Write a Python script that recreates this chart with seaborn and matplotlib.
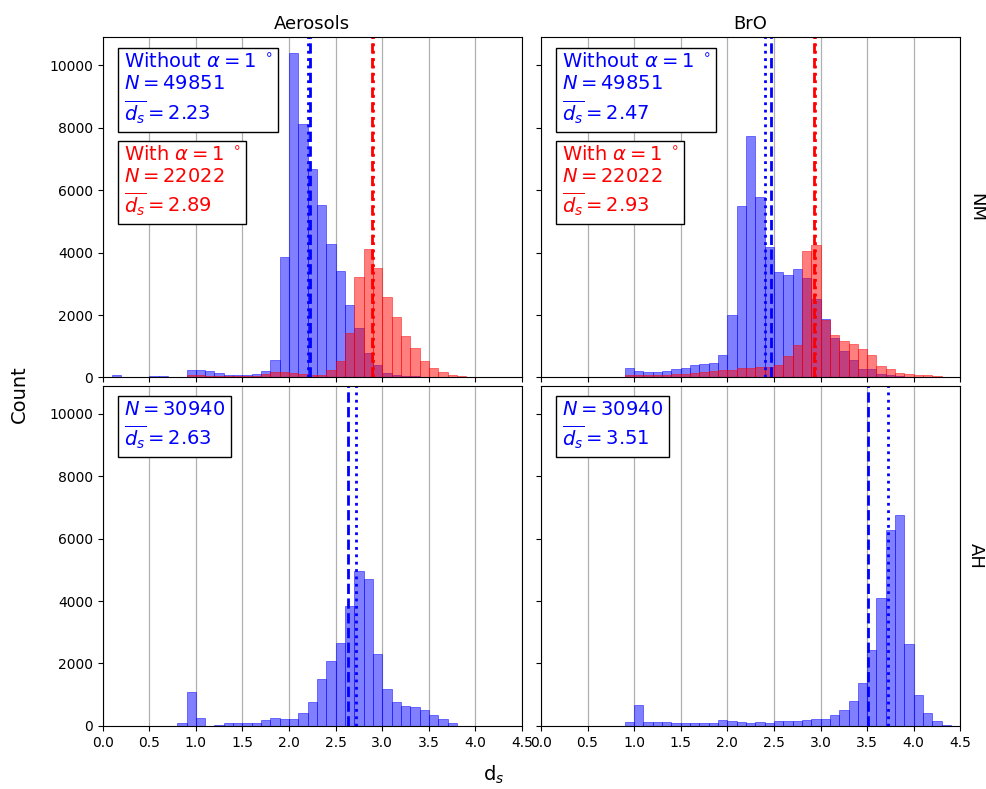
import numpy as np
import pandas as pd
import seaborn as sns
import matplotlib
matplotlib.use("Agg")
import matplotlib.pyplot as plt

# bin edges of the d_s histograms (width 0.1, from 0.0 to 4.5)
bin_edges = np.round(np.arange(0.0, 4.51, 0.1), 1)
bin_centers = bin_edges[:-1] + 0.05

# counts per bin (45 bins: 0.0 ... 4.4)
aer_nm_without = [20, 65, 20, 15, 20, 50, 50, 20, 20, 225,
                  225, 190, 140, 65, 65, 65, 100, 190, 550, 3870,
                  10390, 8130, 6670, 5520, 4290, 3400, 2320, 1590, 770, 410,
                  150, 85, 50, 30, 10, 5, 0, 0, 0, 0,
                  0, 0, 0, 0, 0]
aer_nm_with = [20, 20, 20, 20, 20, 20, 20, 20, 20, 80,
               80, 60, 50, 40, 40, 50, 60, 100, 160, 160,
               140, 110, 85, 85, 240, 515, 1430, 3230, 4130, 3520,
               2580, 1950, 1320, 935, 515, 290, 160, 85, 30, 10,
               0, 0, 0, 0, 0]
bro_nm_without = [0, 0, 0, 0, 0, 0, 0, 0, 0, 290,
                  195, 160, 160, 195, 260, 290, 400, 440, 460, 710,
                  2000, 5480, 7740, 5790, 4190, 3390, 3290, 3480, 3200, 2500,
                  1870, 1270, 860, 570, 270, 260, 120, 85, 40, 20,
                  10, 0, 0, 0, 0]
bro_nm_with = [0, 0, 0, 0, 0, 0, 0, 0, 0, 85,
               65, 65, 65, 85, 120, 120, 150, 160, 195, 225,
               225, 290, 290, 320, 320, 410, 680, 1050, 4060, 4260,
               1850, 1355, 1160, 1085, 925, 710, 365, 280, 150, 110,
               85, 65, 50, 20, 0]
aer_ah = [0, 0, 0, 0, 0, 0, 0, 0, 100, 1100,
          260, 0, 30, 100, 100, 100, 100, 195, 260, 225,
          225, 420, 775, 1515, 2065, 2645, 3840, 4970, 4710, 2290,
          1190, 775, 645, 615, 515, 355, 225, 100, 0, 0,
          0, 0, 0, 0, 0]
bro_ah = [0, 0, 0, 0, 0, 0, 0, 0, 0, 130,
          680, 130, 130, 130, 100, 100, 100, 100, 100, 195,
          160, 130, 100, 130, 100, 160, 160, 160, 195, 225,
          225, 355, 515, 805, 1390, 2420, 4100, 6290, 6770, 2610,
          1000, 420, 160, 30, 0]

# summary numbers shown in the boxes / as vertical lines
n_without = 49851
n_with = 22022
n_ah = 30940
mean_vals = {"aer_nm_without": 2.23, "aer_nm_with": 2.89,
             "bro_nm_without": 2.47, "bro_nm_with": 2.93,
             "aer_ah": 2.63, "bro_ah": 3.51}
median_vals = {"aer_nm_without": 2.205, "aer_nm_with": 2.90,
               "bro_nm_without": 2.40, "bro_nm_with": 2.945,
               "aer_ah": 2.72, "bro_ah": 3.725}

species = ["Aerosols", "BrO"]
regions = ["NM", "AH"]

fig, axes = plt.subplots(2, 2, figsize=(9.87, 7.89), dpi=100, sharex=True, sharey=True)
plt.subplots_adjust(left=0.104, right=0.973, top=0.953, bottom=0.080, wspace=0.045, hspace=0.024)

panels = {
    (0, 0): [("aer_nm_without", aer_nm_without, "blue"), ("aer_nm_with", aer_nm_with, "red")],
    (0, 1): [("bro_nm_without", bro_nm_without, "blue"), ("bro_nm_with", bro_nm_with, "red")],
    (1, 0): [("aer_ah", aer_ah, "blue")],
    (1, 1): [("bro_ah", bro_ah, "blue")],
}

for (r, c), series in panels.items():
    ax = axes[r, c]
    ax.grid(axis="x", color="#b0b0b0", linewidth=0.9)
    ax.set_axisbelow(True)
    for key, counts, col in series:
        df = pd.DataFrame({"ds": bin_centers, "count": counts})
        sns.histplot(data=df, x="ds", weights="count", bins=list(bin_edges), color=col,
                     alpha=0.5, edgecolor=matplotlib.colors.to_rgba(col, 0.55),
                     linewidth=0.6, ax=ax)
    for key, counts, col in series:
        ax.axvline(mean_vals[key], color=col, linestyle="--", linewidth=2)
        ax.axvline(median_vals[key], color=col, linestyle=":", linewidth=2)
    ax.set_xlabel("")
    ax.set_ylabel("")

    # annotation boxes
    box = dict(boxstyle="square", facecolor="white", edgecolor="black")
    if r == 0:
        k_wo, k_w = series[0][0], series[1][0]
        ax.text(0.05, 0.955,
                "Without $\\alpha=1\\;^\\circ$\n$N=%d$\n$\\overline{d_s}=%.2f$" % (n_without, mean_vals[k_wo]),
                transform=ax.transAxes, va="top", ha="left", color="blue", fontsize=14, bbox=box)
        ax.text(0.05, 0.683,
                "With $\\alpha=1\\;^\\circ$\n$N=%d$\n$\\overline{d_s}=%.2f$" % (n_with, mean_vals[k_w]),
                transform=ax.transAxes, va="top", ha="left", color="red", fontsize=14, bbox=box)
    else:
        k = series[0][0]
        ax.text(0.05, 0.958,
                "$N=%d$\n$\\overline{d_s}=%.2f$" % (n_ah, mean_vals[k]),
                transform=ax.transAxes, va="top", ha="left", color="blue", fontsize=14, bbox=box)

ax = axes[0, 0]
ax.set_xlim(0, 4.5)
ax.set_xticks(np.arange(0, 4.51, 0.5))

for c, name in enumerate(species):
    axes[0, c].set_title(name, fontsize=13)
for r, name in enumerate(regions):
    axes[r, 1].text(1.037, 0.5, name, rotation=-90, transform=axes[r, 1].transAxes,
                    va="center", ha="center", fontsize=13)

fig.text(0.02, 0.5, "Count", rotation=90, va="center", ha="center", fontsize=14)
fig.text(0.5, 0.004, "d$_s$", va="bottom", ha="center", fontsize=14)

plt.savefig("out.png", dpi=100)
